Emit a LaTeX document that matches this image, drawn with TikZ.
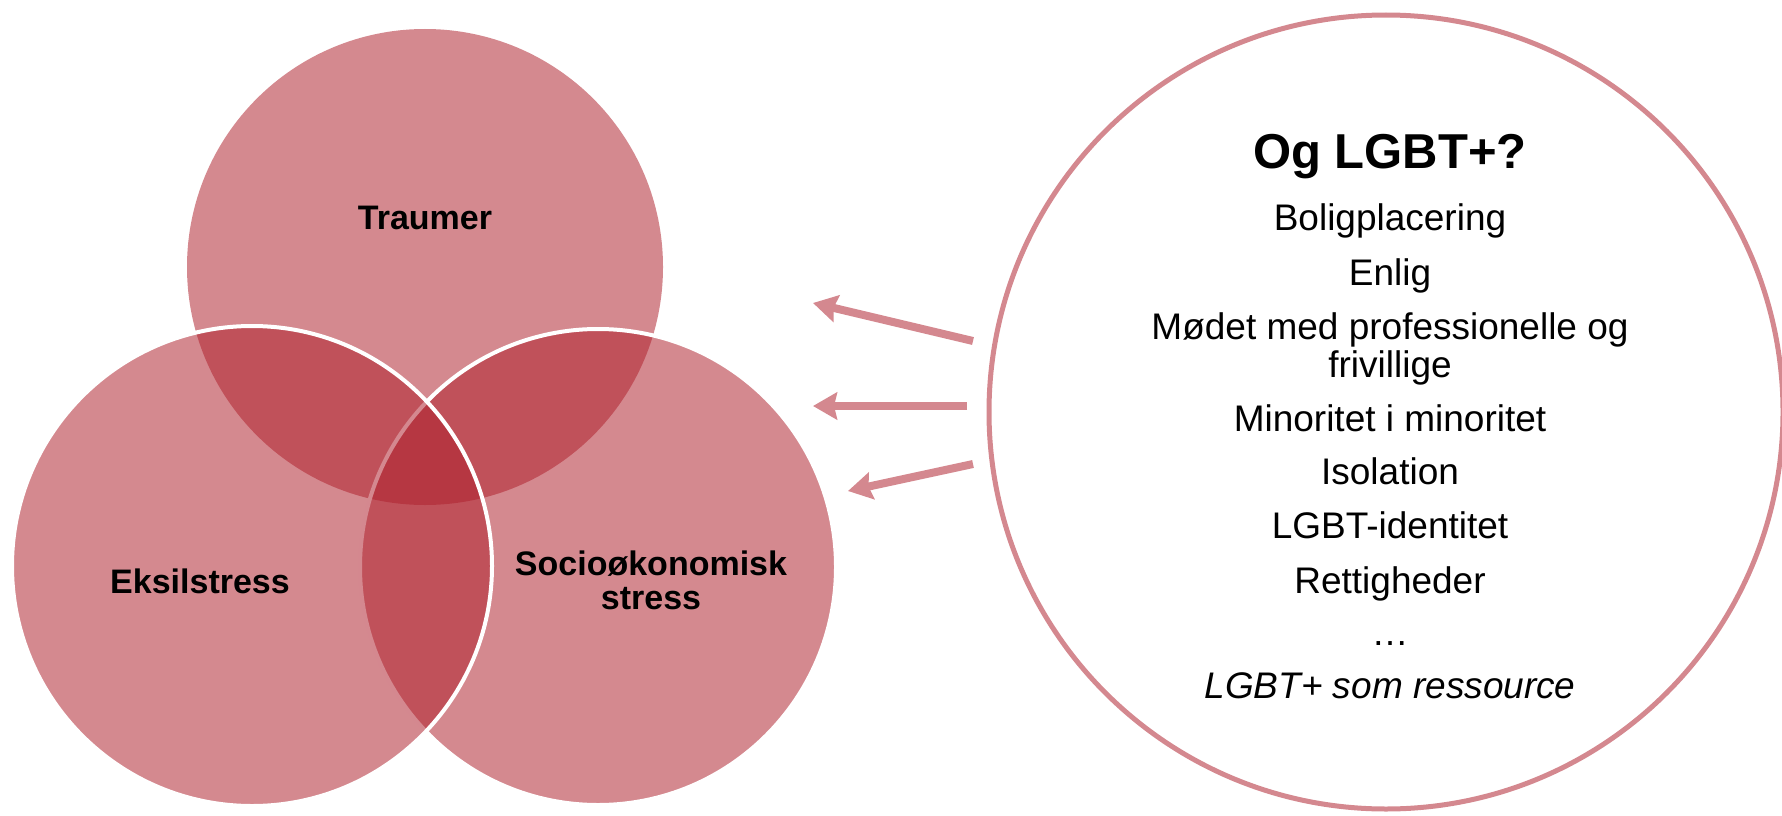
\documentclass[tikz,border=0pt]{standalone}
\usepackage{fontspec}
\setmainfont{Liberation Sans}
\usetikzlibrary{arrows.meta}
\definecolor{vennred}{RGB}{174,32,44}
\definecolor{rosa}{RGB}{212,136,143}
\begin{document}
\begin{tikzpicture}[x=1pt,y=-1pt,
  venn/.style={circle, inner sep=0pt, minimum size=#1, fill=vennred, fill opacity=0.53, text opacity=1},
  vlabel/.style={font=\fontsize{34}{34}\selectfont\bfseries, align=center, text=black, inner sep=0pt, anchor=base},
  item/.style={font=\fontsize{37}{38}\selectfont, anchor=base, inner sep=0pt, align=center},
  arr/.style={draw=rosa, line width=8pt, -{Stealth[length=24pt,width=27pt,inset=3pt]}}]
\useasboundingbox (0,0) rectangle (1782,816);
% Venn circles
\node[venn=476pt] (traumer) at (425,267) {};
\node[venn=476pt, draw=white, line width=4pt] (socio) at (598,567) {};
\node[venn=480pt, draw=white, line width=4pt] (eksil) at (252,566) {};
\node[vlabel] (tl) at (425,229) {Traumer};
\node[vlabel] (el) at (200,593) {Eksilstress};
\node[vlabel] (sl) at (651,609) {Socioøkonomisk\\stress};
% big circle
\node[circle, draw=rosa, line width=5pt, minimum size=794pt, inner sep=0pt] (lgbt) at (1386,412) {};
\node[font=\fontsize{49}{50}\selectfont\bfseries, anchor=base, inner sep=0pt] (title) at (1390,168) {Og LGBT+?};
\node[item] (i1) at (1390,230) {Boligplacering};
\node[item] (i2) at (1390,285) {Enlig};
\node[item] (i3) at (1390,377) {Mødet med professionelle og\\frivillige};
\node[item] (i4) at (1390,431) {Minoritet i minoritet};
\node[item] (i5) at (1390,484) {Isolation};
\node[item] (i6) at (1390,538) {LGBT-identitet};
\node[item] (i7) at (1390,593) {Rettigheder};
\node[item] (i8) at (1390,645) {…};
\node[item, font=\fontsize{37}{38}\selectfont\itshape] (i9) at (1390,698) {LGBT+ som ressource};
% arrows
\coordinate (a1s) at (973,341); \coordinate (a1e) at (813,303);
\coordinate (a2s) at (967,406); \coordinate (a2e) at (813,406);
\coordinate (a3s) at (973,464); \coordinate (a3e) at (848,491);
\draw[arr] (a1s) -- (a1e);
\draw[arr] (a2s) -- (a2e);
\draw[arr] (a3s) -- (a3e);
\end{tikzpicture}
\end{document}
